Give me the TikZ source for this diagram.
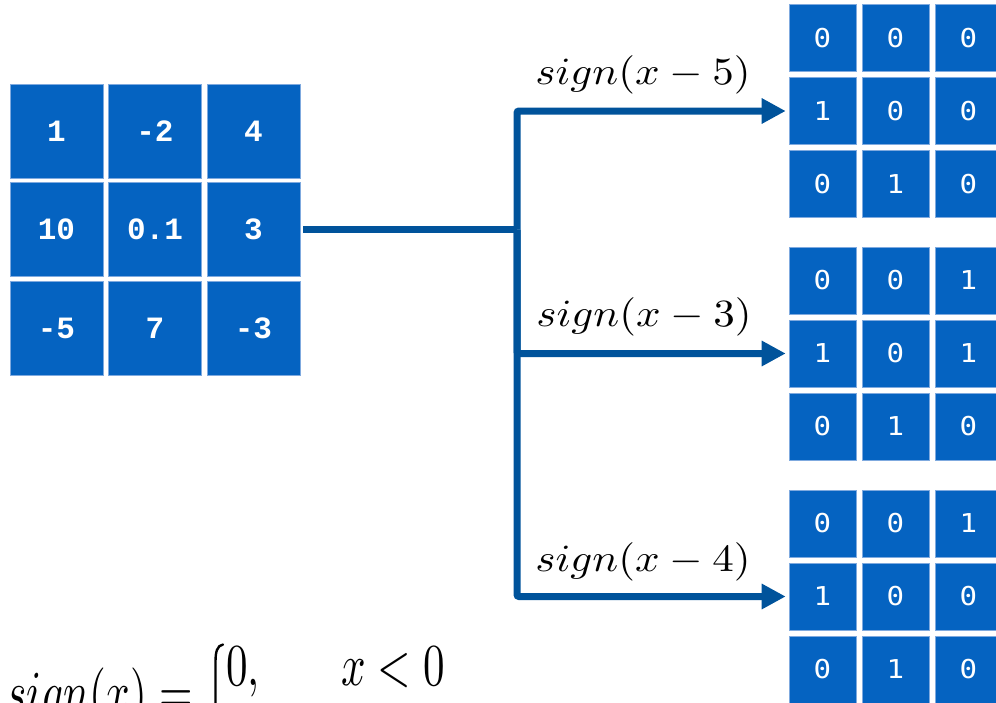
\documentclass[tikz,border=0pt]{standalone}
\usepackage{fontspec}
\usepackage{graphicx}
\usetikzlibrary{arrows.meta}
\newfontfamily\lmono{Liberation Mono}
\newfontfamily\rmono{DejaVu Sans Mono}
\definecolor{cellblue}{HTML}{0563C1}
\definecolor{celledge}{HTML}{7FAADF}
\definecolor{linkblue}{HTML}{00539B}
\newcommand\mathlbl[1]{\scalebox{4.305}[3.85]{$#1$}}
\newcommand\mathbig[1]{\scalebox{4.305}[5.95]{$#1$}}
\begin{document}
\begin{tikzpicture}[x=1pt,y=-1pt,
 lcell/.style={fill=cellblue, draw=celledge, line width=0.6pt, minimum width=93pt, minimum height=94pt, inner sep=0pt, text=white, font=\lmono\bfseries\fontsize{31}{36}\selectfont},
 rcell/.style={fill=cellblue, draw=celledge, line width=0.6pt, minimum size=67pt, inner sep=0pt, text=white, font=\rmono\fontsize{26}{30}\selectfont},
 link/.style={draw=linkblue, line width=7pt},
 arr/.style={link, -{Triangle[length=24pt,width=24pt]}, shorten >=3pt, rounded corners=2pt},
 lbl/.style={inner sep=0pt, anchor=base},
 fml/.style={inner sep=0pt, anchor=base west},
 bracestroke/.style={line width=2.4pt, line cap=round}]
\clip (0,0) rectangle (996,702);
% left grid
\foreach \c/\r/\v in {1/1/1, 2/1/-2, 3/1/4, 1/2/10, 2/2/0.1, 3/2/3, 1/3/-5, 2/3/7, 3/3/-3}
  \node[lcell] (L\r\c) at ({56.5+98.5*(\c-1)}, {131+98.5*(\r-1)}) {\v};
% right grids
\foreach \c/\r/\v in {1/1/0, 2/1/0, 3/1/0, 1/2/1, 2/2/0, 3/2/0, 1/3/0, 2/3/1, 3/3/0}
  \node[rcell] (A\r\c) at ({822.5+73*(\c-1)}, {38+73*(\r-1)}) {\scalebox{1.12}[1]{\v}};
\foreach \c/\r/\v in {1/1/0, 2/1/0, 3/1/1, 1/2/1, 2/2/0, 3/2/1, 1/3/0, 2/3/1, 3/3/0}
  \node[rcell] (B\r\c) at ({822.5+73*(\c-1)}, {280.5+73*(\r-1)}) {\scalebox{1.12}[1]{\v}};
\foreach \c/\r/\v in {1/1/0, 2/1/0, 3/1/1, 1/2/1, 2/2/0, 3/2/0, 1/3/0, 2/3/1, 3/3/0}
  \node[rcell] (C\r\c) at ({822.5+73*(\c-1)}, {523.5+73*(\r-1)}) {\scalebox{1.12}[1]{\v}};
% connectors
\coordinate (J) at (517,229.5);
\draw[link, shorten <=3pt] (L23.east) -- (J);
\draw[arr] (J) |- (A21.west);
\draw[arr] (J) |- (B21.west);
\draw[arr] (J) |- (C21.west);
% labels
\node[lbl] (s5) at (643,84) {\mathlbl{sign(x-5)}};
\node[lbl] (s3) at (644,326) {\mathlbl{sign(x-3)}};
\node[lbl] (s4) at (643,571) {\mathlbl{sign(x-4)}};
% formula
\node[fml] (f1) at (6,712) {\mathbig{sign(x) =}};
\draw[bracestroke] (223,644.5) .. controls (217,645.5) and (215.5,652) .. (215.5,662) -- (215.5,710);
\node[fml] (f2) at (226,685) {\mathbig{0,}};
\node[fml] (f3) at (341,685) {\mathbig{x<0}};
\end{tikzpicture}
\end{document}
